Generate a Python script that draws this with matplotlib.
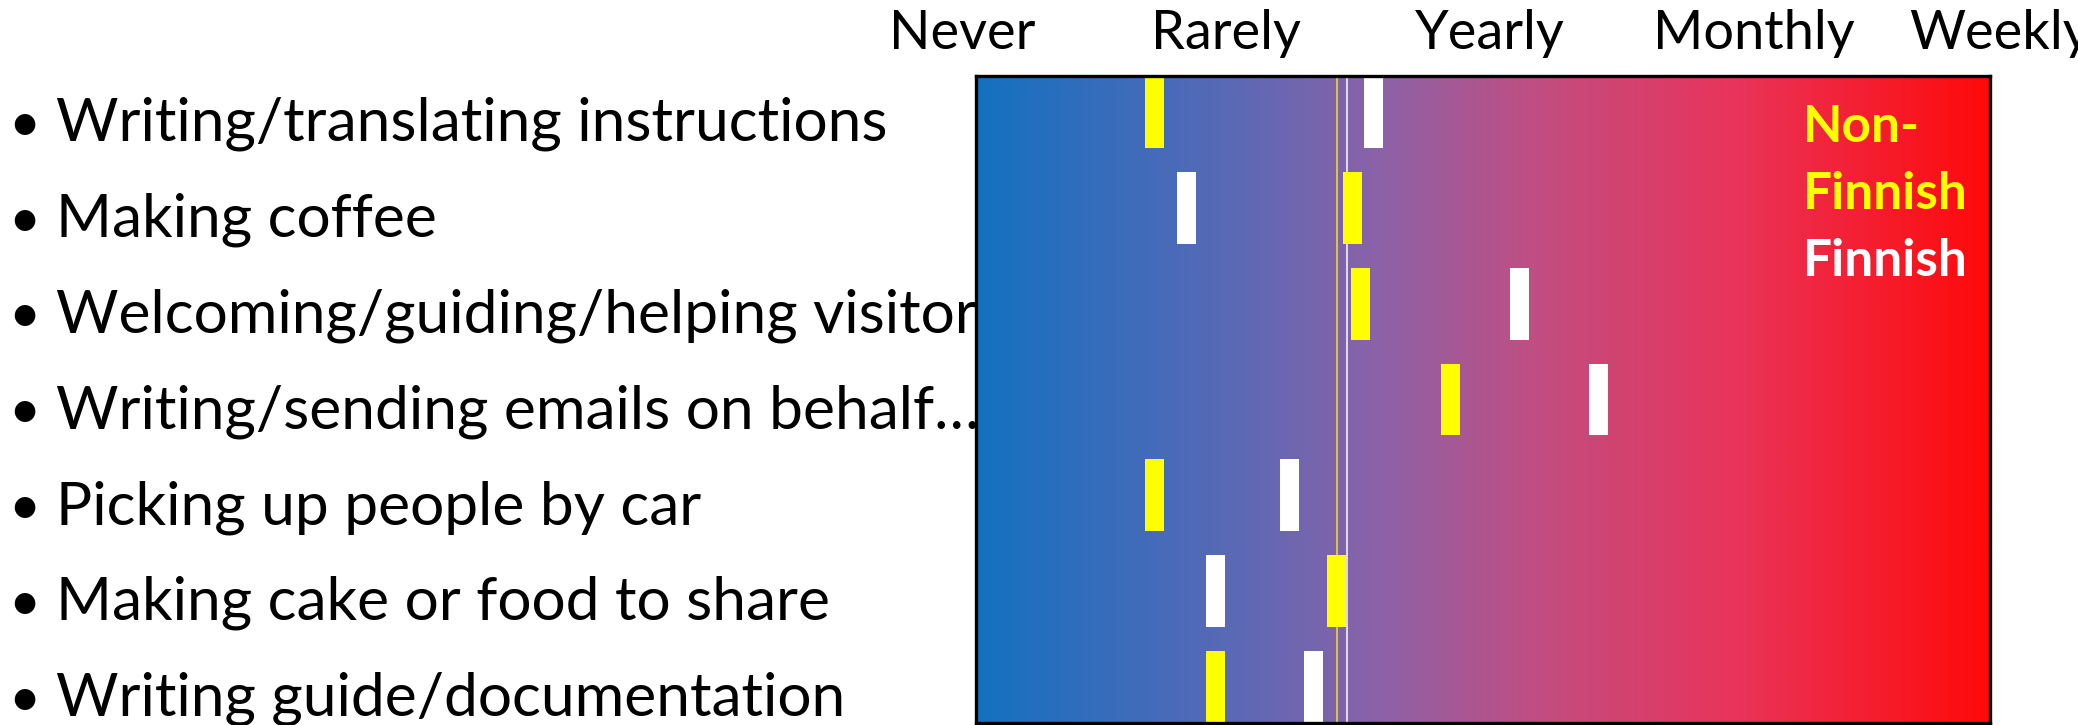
import numpy as np
import matplotlib.pyplot as plt
from matplotlib.colors import LinearSegmentedColormap
from matplotlib.transforms import blended_transform_factory

# chart data
activities = [
    "Writing/translating instructions",
    "Making coffee",
    "Welcoming/guiding/helping visitors",
    "Writing/sending emails on behalf\u2026",
    "Picking up people by car",
    "Making cake or food to share",
    "Writing guide/documentation",
]
freq_labels = ["Never", "Rarely", "Yearly", "Monthly", "Weekly"]
non_finnish = [1.73, 2.48, 2.51, 2.85, 1.73, 2.42, 1.96]
finnish = [2.56, 1.85, 3.11, 3.41, 2.24, 1.96, 2.33]
non_finnish_line = 2.42
finnish_line = 2.46

# layout
header_x = [1.0, 2.0, 3.0, 4.0, 4.93]
FONT = "Lato"
W, H = 2078, 725

fig = plt.figure(figsize=(W / 100, H / 100), dpi=100)
ax = fig.add_axes([976 / W, 2 / H, 1014 / W, 647 / H])

xlim = (1.053, 4.894)
ylim = (6.376, -0.376)

grad = LinearSegmentedColormap.from_list(
    "freq",
    [(0.0, "#1371C1"), (0.25, "#5A69B6"), (0.40, "#8C62A7"),
     (0.55, "#C04E82"), (0.75, "#E9345A"), (1.0, "#FF0A0A")],
)
ax.imshow(np.linspace(0, 1, 512).reshape(1, -1), cmap=grad, aspect="auto",
          extent=(xlim[0], xlim[1], ylim[0], ylim[1]), zorder=0)

rows = np.arange(len(activities))
bw = 0.072
ax.barh(rows, bw, left=np.array(non_finnish) - bw / 2, height=0.75,
        color="#FFFF00", zorder=3)
ax.barh(rows, bw, left=np.array(finnish) - bw / 2, height=0.75,
        color="#FFFFFF", zorder=3)

ax.axvline(non_finnish_line, color="#E2D22E", lw=1.3, zorder=2)
ax.axvline(finnish_line, color="#F4F0F4", lw=1.2, zorder=2)

ax.set_xlim(*xlim)
ax.set_ylim(*ylim)
ax.set_xticks([])
ax.set_yticks([])
for sp in ax.spines.values():
    sp.set_color("black")
    sp.set_linewidth(2.4)
    sp.set_zorder(5)

# frequency header above the box
tr = blended_transform_factory(ax.transData, ax.transAxes)
for x, lab in zip(header_x, freq_labels):
    ax.text(x, 1.041, lab, transform=tr, ha="center", va="baseline",
            fontsize=39, family=FONT, clip_on=False)

# bullet list of activities, drawn under the box
tr_rows = blended_transform_factory(fig.transFigure, ax.transData)
for r, name in zip(rows, activities):
    fig.text(8 / W, r + 0.30, "\u2022", transform=tr_rows, va="baseline",
             fontsize=40, family=FONT, zorder=-1)
    fig.text(56 / W, r + 0.30, name, transform=tr_rows, va="baseline",
             fontsize=43.5, family=FONT, zorder=-1)

# legend text
legend_lines = [("Non-", "#FFFF00", 142), ("Finnish", "#FFFF00", 209),
                ("Finnish", "white", 276)]
for txt, col, base in legend_lines:
    fig.text(1803 / W, 1 - base / H, txt, va="baseline", fontsize=37,
             fontweight="bold", color=col, family=FONT, zorder=6)

fig.savefig("out.png", dpi=100)
